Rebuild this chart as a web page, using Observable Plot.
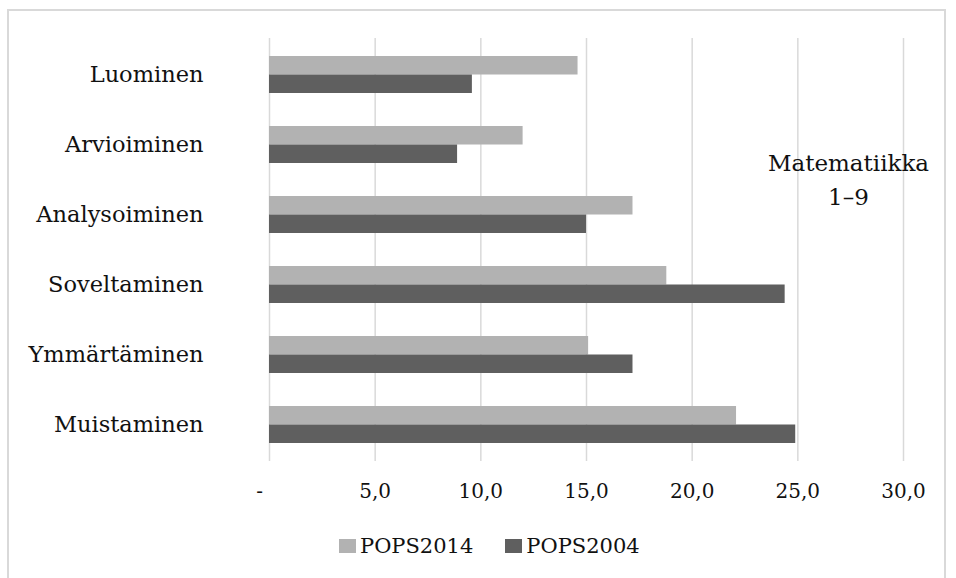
<!DOCTYPE html>
<html>
<head>
<meta charset="utf-8">
<script src="https://cdn.jsdelivr.net/npm/d3@7"></script>
<script src="https://cdn.jsdelivr.net/npm/@observablehq/plot@0.6"></script>
<style>
  html, body { margin: 0; padding: 0; background: #fff; }
  #wrap { position: relative; width: 956px; height: 578px; overflow: hidden; font-family: "DejaVu Serif", serif; }
  #frame { position: absolute; left: 7px; top: 9px; width: 939px; height: 600px; border: 2px solid #d9d9d9; box-sizing: border-box; }
  #chart { position: absolute; left: 0; top: 0; }
  #legend { position: absolute; top: 534px; left: 339px; display: flex; align-items: center; font-size: 21px; color: #111; }
  .item { display: flex; align-items: center; margin-right: 32px; }
  .sw { width: 17px; height: 14px; margin-right: 4px; }
</style>
</head>
<body>
<div id="wrap">
  <div id="frame"></div>
  <div id="chart"></div>
  <div id="legend"></div>
</div>
<script>
const categories = ["Luominen", "Arvioiminen", "Analysoiminen", "Soveltaminen", "Ymmärtäminen", "Muistaminen"];
const series = ["POPS2014", "POPS2004"];
const pops2014 = [14.6, 12.0, 17.2, 18.8, 15.1, 22.1];
const pops2004 = [9.6, 8.9, 15.0, 24.4, 17.2, 24.9];
const xTicks = [0, 5, 10, 15, 20, 25, 30];
const colors = ["#b2b2b2", "#5f5f5f"];
const annotation = ["Matematiikka\n1–9"];

const rows2014 = categories.map((c, i) => ({category: c, value: pops2014[i]}));
const rows2004 = categories.map((c, i) => ({category: c, value: pops2004[i]}));

const fmt = d => d === 0 ? "-\u2003" : d.toFixed(1).replace(".", ",");

const chart = Plot.plot({
  width: 956,
  height: 520,
  marginLeft: 269,
  marginRight: 53,
  marginTop: 38,
  marginBottom: 59,
  style: {fontFamily: "DejaVu Serif, serif", color: "#111", background: "transparent"},
  x: {domain: [0, 30], ticks: xTicks},
  y: {domain: categories, paddingInner: 0.475, paddingOuter: 0.2375},
  marks: [
    Plot.gridX(xTicks, {stroke: "#d9d9d9", strokeOpacity: 1, strokeWidth: 1.5}),
    Plot.barX(rows2014, {x: "value", y: "category", fill: colors[0], insetBottom: 18.5}),
    Plot.barX(rows2004, {x: "value", y: "category", fill: colors[1], insetTop: 18.5}),
    Plot.axisX(xTicks, {tickSize: 0, tickPadding: 22, tickFormat: fmt, fontSize: 20, label: null}),
    Plot.axisY({tickSize: 0, tickPadding: 66, fontSize: 22.5, label: null}),
    Plot.text(annotation, {text: d => d, frameAnchor: "top-right", textAnchor: "middle", lineAnchor: "top", dx: -55, dy: 108, fontSize: 23, lineHeight: 1.5, fill: "#111"})
  ]
});
document.getElementById("chart").appendChild(chart);

const legend = document.getElementById("legend");
series.forEach((s, i) => {
  const item = document.createElement("div");
  item.className = "item";
  const sw = document.createElement("span");
  sw.className = "sw";
  sw.style.background = colors[i];
  const t = document.createElement("span");
  t.textContent = s;
  item.appendChild(sw);
  item.appendChild(t);
  legend.appendChild(item);
});
</script>
</body>
</html>
